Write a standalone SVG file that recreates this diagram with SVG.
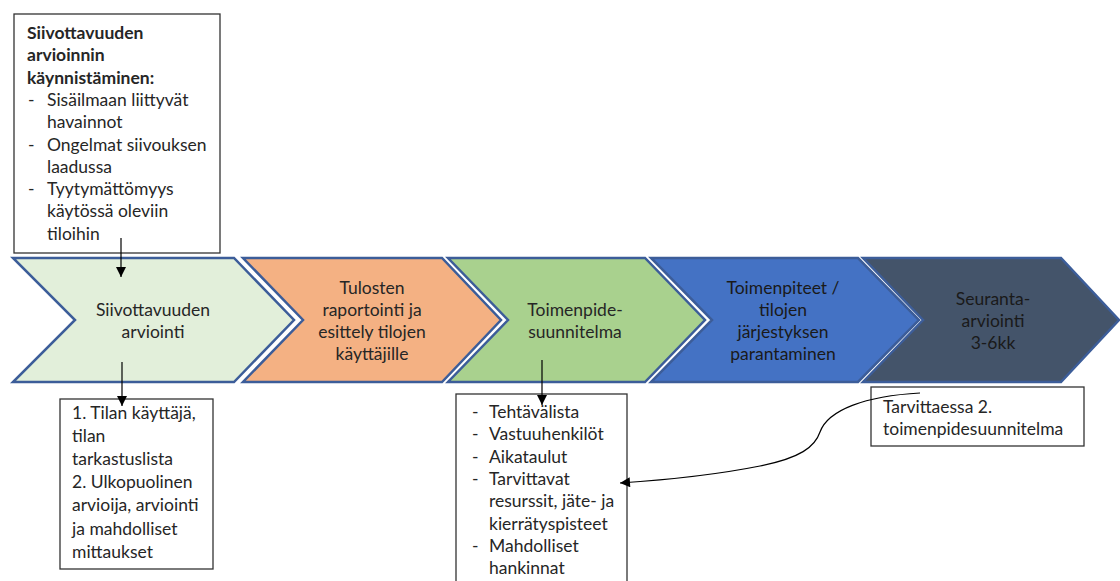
<svg xmlns="http://www.w3.org/2000/svg" width="1120" height="581" viewBox="0 0 1120 581">
  <defs>
    <marker id="arrow" viewBox="0 0 10 10" refX="10" refY="5" markerWidth="11" markerHeight="10" markerUnits="userSpaceOnUse" orient="auto">
      <path d="M0,0 L10,5 L0,10 Z" fill="#000"/>
    </marker>
    <style>
      .box { fill: #fff; stroke: #333; stroke-width: 1.3; }
      .chev { stroke: #3c5d99; stroke-width: 2.5; stroke-linejoin: miter; }
      .t { font-family: Lato, "Liberation Sans", sans-serif; font-size: 17.5px; fill: #262626; }
      .b { font-weight: bold; }
      .c { text-anchor: middle; }
      .dark { fill: #1a1a1a; }
      .link { fill: none; stroke: #000; stroke-width: 1.2; }
    </style>
  </defs>
  <rect width="1120" height="581" fill="#fff"/>

  <!-- process chevrons -->
  <g id="step1">
    <path class="chev" d="M13,258 L234,258 L294,320 L234,382 L13,382 L75,320 Z" fill="#e2efda"/>
    <text class="t c" x="153" y="316">Siivottavuuden</text>
    <text class="t c" x="153" y="338">arviointi</text>
  </g>
  <g id="step2">
    <path class="chev" d="M243,258 L442,258 L501,320 L442,382 L243,382 L303,320 Z" fill="#f4b183"/>
    <text class="t c" x="372" y="294">Tulosten</text>
    <text class="t c" x="372" y="316">raportointi ja</text>
    <text class="t c" x="372" y="338">esittely tilojen</text>
    <text class="t c" x="372" y="360">käyttäjille</text>
  </g>
  <g id="step3">
    <path class="chev" d="M448,258 L645,258 L705,320 L645,382 L448,382 L508,320 Z" fill="#a9d18e"/>
    <text class="t c" x="575" y="316">Toimenpide-</text>
    <text class="t c" x="575" y="338">suunnitelma</text>
  </g>
  <g id="step4">
    <path class="chev" d="M651,258 L858,258 L919,320 L858,382 L651,382 L712,320 Z" fill="#4472c4"/>
    <text class="t c dark" x="783" y="294">Toimenpiteet /</text>
    <text class="t c dark" x="783" y="316">tilojen</text>
    <text class="t c dark" x="783" y="338">järjestyksen</text>
    <text class="t c dark" x="783" y="360">parantaminen</text>
  </g>
  <g id="step5">
    <path class="chev" d="M863,258 L1061,258 L1119,320 L1061,382 L863,382 L923,320 Z" fill="#44546a"/>
    <text class="t c dark" x="993" y="305">Seuranta-</text>
    <text class="t c dark" x="993" y="327">arviointi</text>
    <text class="t c dark" x="993" y="349">3-6kk</text>
  </g>

  <!-- annotation boxes -->
  <g id="start-box">
    <rect class="box" x="14" y="14" width="206" height="239"/>
    <text class="t b" x="27" y="39">Siivottavuuden</text>
    <text class="t b" x="27" y="61">arvioinnin</text>
    <text class="t b" x="27" y="84">käynnistäminen:</text>
    <text class="t" x="28" y="106">-</text>
    <text class="t" x="47" y="106">Sisäilmaan liittyvät</text>
    <text class="t" x="47" y="128">havainnot</text>
    <text class="t" x="28" y="151">-</text>
    <text class="t" x="47" y="151">Ongelmat siivouksen</text>
    <text class="t" x="47" y="173">laadussa</text>
    <text class="t" x="28" y="195">-</text>
    <text class="t" x="47" y="195">Tyytymättömyys</text>
    <text class="t" x="47" y="217">käytössä oleviin</text>
    <text class="t" x="47" y="240">tiloihin</text>
  </g>
  <g id="assessment-box">
    <rect class="box" x="60" y="399" width="153" height="170"/>
    <text class="t" x="72" y="419">1. Tilan käyttäjä,</text>
    <text class="t" x="72" y="442">tilan</text>
    <text class="t" x="72" y="465">tarkastuslista</text>
    <text class="t" x="72" y="488">2. Ulkopuolinen</text>
    <text class="t" x="72" y="511">arvioija, arviointi</text>
    <text class="t" x="72" y="535">ja mahdolliset</text>
    <text class="t" x="72" y="558">mittaukset</text>
  </g>
  <g id="plan-box">
    <rect class="box" x="456" y="394" width="171" height="200"/>
    <text class="t" x="472" y="418">-</text>
    <text class="t" x="489" y="418">Tehtävälista</text>
    <text class="t" x="472" y="440">-</text>
    <text class="t" x="489" y="440">Vastuuhenkilöt</text>
    <text class="t" x="472" y="463">-</text>
    <text class="t" x="489" y="463">Aikataulut</text>
    <text class="t" x="472" y="485">-</text>
    <text class="t" x="489" y="485">Tarvittavat</text>
    <text class="t" x="489" y="507">resurssit, jäte- ja</text>
    <text class="t" x="489" y="530">kierrätyspisteet</text>
    <text class="t" x="472" y="552">-</text>
    <text class="t" x="489" y="552">Mahdolliset</text>
    <text class="t" x="489" y="574">hankinnat</text>
  </g>
  <g id="second-plan-box">
    <rect class="box" x="871" y="387" width="213" height="59"/>
    <text class="t" x="883" y="413">Tarvittaessa 2.</text>
    <text class="t" x="883" y="435">toimenpidesuunnitelma</text>
  </g>

  <!-- connectors -->
  <g id="connectors">
    <line class="link" x1="121" y1="238" x2="121" y2="277" marker-end="url(#arrow)"/>
    <line class="link" x1="122" y1="362" x2="122" y2="406" marker-end="url(#arrow)"/>
    <line class="link" x1="542" y1="360" x2="542" y2="405" marker-end="url(#arrow)"/>
    <path class="link" d="M920,393 C865,396 828,410 820,432 C815,447 800,458 760,466 C720,474 680,479 620,483" marker-end="url(#arrow)"/>
  </g>
</svg>
